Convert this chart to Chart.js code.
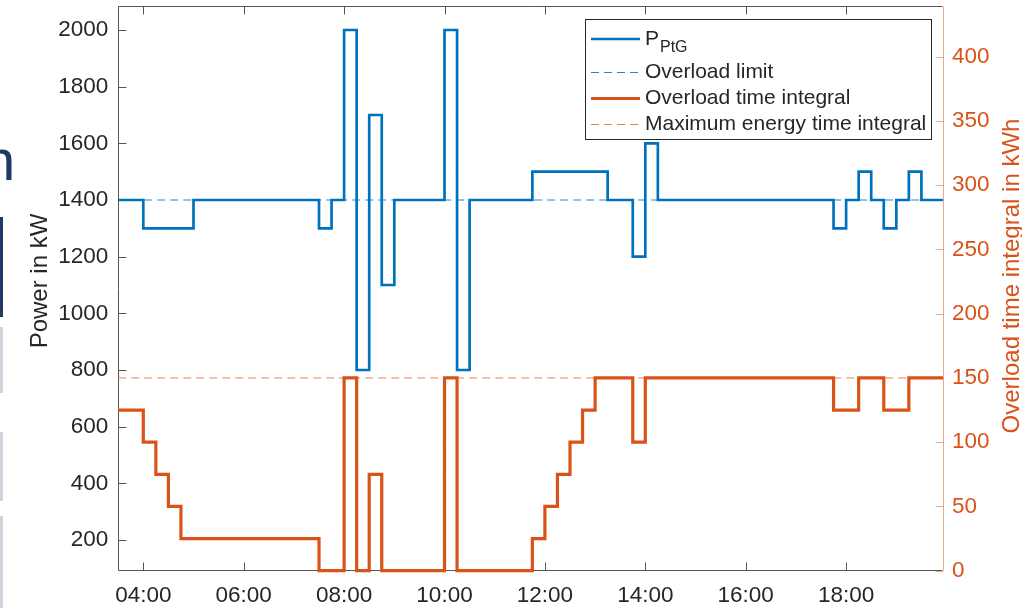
<!DOCTYPE html>
<html>
<head>
<meta charset="utf-8">
<script src="https://cdn.jsdelivr.net/npm/chart.js@4.4.1/dist/chart.umd.min.js"></script>
<style>
  html, body { margin: 0; padding: 0; background: #fff; }
  #wrap { position: relative; width: 1022px; height: 608px; overflow: hidden; }
  #chart { position: absolute; left: 0; top: 0; }
  .slide-n { position: absolute; left: -17px; top: 131px; font: 58px/58px "Liberation Sans", Arial, sans-serif; color: #1f3864; }
  .bar { position: absolute; left: 0; width: 3px; }
</style>
</head>
<body>
<div id="wrap">
  <div class="slide-n">n</div>
  <div class="bar" style="top:217px;height:100px;background:#1f3864"></div>
  <div class="bar" style="top:327px;height:66px;background:#cfd3dc"></div>
  <div class="bar" style="top:432px;height:69px;background:#cfd3dc"></div>
  <div class="bar" style="top:516px;height:92px;background:#cfd3dc"></div>
  <canvas id="chart" width="1022" height="608"></canvas>
</div>
<script>
// --- Data (time in hours of day) ---
const xMin = 3.5;
const xMax = 19.93;
const xTicks = [4, 6, 8, 10, 12, 14, 16, 18];
const leftTicks = [200, 400, 600, 800, 1000, 1200, 1400, 1600, 1800, 2000];
const rightTicks = [0, 50, 100, 150, 200, 250, 300, 350, 400];

// P_PtG in kW, each value holds from its time until the next one
const pTimes = [3.5, 4, 5, 7.5, 7.75, 8, 8.25, 8.5, 8.75, 9, 10, 10.25, 10.5, 11.75, 13.25, 13.75, 14, 14.25, 17.75, 18, 18.25, 18.5, 18.75, 19, 19.25, 19.5, 19.93];
const pValues = [1400, 1300, 1400, 1300, 1400, 2000, 800, 1700, 1100, 1400, 2000, 800, 1400, 1500, 1400, 1200, 1600, 1400, 1300, 1400, 1500, 1400, 1300, 1400, 1500, 1400, 1400];

// Overload time integral in kWh
const eTimes = [3.5, 4, 4.25, 4.5, 4.75, 7.5, 8, 8.25, 8.5, 8.75, 10, 10.25, 11.75, 12, 12.25, 12.5, 12.75, 13, 13.75, 14, 17.75, 18.25, 18.75, 19.25, 19.93];
const eValues = [125, 100, 75, 50, 25, 0, 150, 0, 75, 0, 150, 0, 25, 50, 75, 100, 125, 150, 100, 150, 125, 150, 125, 150, 150];

const overloadLimit = 1400;
const maxEnergy = 150;

// --- Styles ---
const FONT = '"Liberation Sans", Arial, sans-serif';
const TEXT = "#262626";
const BLUE = "#0072BD";
const BLUE_DASH = "#1f86d0";
const ORANGE = "#D95319";
const ORANGE_DASH = "#ee7f52";
const ORANGE_AXIS = "rgba(217, 83, 25, 0.5)";

const toXY = (ts, vs) => ts.map((t, i) => ({ x: t, y: vs[i] }));
const pad2 = (v) => (v < 10 ? "0" : "") + v + ":00";
const noPad = (s) => { s.paddingTop = 0; s.paddingBottom = 0; s.paddingLeft = 0; s.paddingRight = 0; };

// axis box and inward ticks under the data, titles and legend on top (MATLAB look)
const framePlugin = {
  id: "frame",
  beforeDatasetsDraw(chart) {
    const { ctx, chartArea: ca, scales } = chart;
    const L = Math.round(ca.left) + 0.5;
    const R = Math.round(ca.right) - 0.5;
    const T = Math.round(ca.top) + 0.5;
    const B = Math.round(ca.bottom) - 0.5;
    const tl = 8;
    ctx.save();
    ctx.lineWidth = 1;
    ctx.strokeStyle = "#555";
    ctx.beginPath();
    ctx.moveTo(R, T); ctx.lineTo(L, T); ctx.lineTo(L, B); ctx.lineTo(R, B);
    xTicks.forEach((v) => {
      const px = Math.round(scales.x.getPixelForValue(v)) + 0.5;
      ctx.moveTo(px, B); ctx.lineTo(px, B - tl);
      ctx.moveTo(px, T); ctx.lineTo(px, T + tl);
    });
    leftTicks.forEach((v) => {
      const py = Math.round(scales.yL.getPixelForValue(v)) + 0.5;
      ctx.moveTo(L, py); ctx.lineTo(L + tl, py);
    });
    ctx.stroke();

    ctx.strokeStyle = ORANGE_AXIS;
    ctx.beginPath();
    ctx.moveTo(R + 1, T); ctx.lineTo(R + 1, B);
    rightTicks.forEach((v) => {
      const py = Math.round(scales.yR.getPixelForValue(v)) + 0.5;
      ctx.moveTo(R + 1, py); ctx.lineTo(R + 1 - tl, py);
    });
    ctx.stroke();
    ctx.restore();
  },
  afterDraw(chart) {
    const { ctx } = chart;
    ctx.save();
    // axis titles
    ctx.font = "24px " + FONT;
    ctx.textAlign = "center";
    ctx.textBaseline = "middle";
    ctx.fillStyle = TEXT;
    ctx.save();
    ctx.translate(40, 281);
    ctx.rotate(-Math.PI / 2);
    ctx.fillText("Power in kW", 0, 0);
    ctx.restore();
    ctx.fillStyle = ORANGE;
    ctx.save();
    ctx.translate(1012, 276);
    ctx.rotate(-Math.PI / 2);
    ctx.fillText("Overload time integral in kWh", 0, 0);
    ctx.restore();

    // legend
    const lx = 585.5, ly = 19.5, lw = 346, lh = 120;
    ctx.fillStyle = "#fff";
    ctx.fillRect(lx, ly, lw, lh);
    ctx.lineWidth = 1;
    ctx.strokeStyle = TEXT;
    ctx.strokeRect(lx, ly, lw, lh);
    const rows = [
      { y: 39, color: BLUE, width: 2.7, dash: [], text: "P" },
      { y: 72.5, color: BLUE_DASH, width: 1, dash: [8, 5], text: "Overload limit" },
      { y: 98.5, color: ORANGE, width: 3.2, dash: [], text: "Overload time integral" },
      { y: 124.5, color: ORANGE_DASH, width: 1, dash: [8, 5], text: "Maximum energy time integral" },
    ];
    ctx.textAlign = "left";
    rows.forEach((r) => {
      ctx.strokeStyle = r.color;
      ctx.lineWidth = r.width;
      ctx.setLineDash(r.dash);
      ctx.beginPath();
      ctx.moveTo(591, r.y); ctx.lineTo(640, r.y);
      ctx.stroke();
      ctx.setLineDash([]);
      ctx.fillStyle = TEXT;
      ctx.font = "21px " + FONT;
      ctx.fillText(r.text, 645, r.y);
    });
    const pw = ctx.measureText("P").width;
    ctx.font = "16px " + FONT;
    ctx.fillText("PtG", 645 + pw + 1, 48);
    ctx.restore();
  },
};

const tickFont = { family: FONT, size: 22.5 };
const hiddenGrid = { display: false, drawTicks: false };

new Chart(document.getElementById("chart").getContext("2d"), {
  type: "line",
  data: {
    datasets: [
      {
        label: "P_PtG",
        data: toXY(pTimes, pValues),
        yAxisID: "yL",
        borderColor: BLUE,
        borderWidth: 2.7,
        stepped: true,
        pointRadius: 0,
        clip: 4,
        order: 3,
      },
      {
        label: "Overload limit",
        data: toXY([xMin, xMax], [overloadLimit, overloadLimit]),
        yAxisID: "yL",
        borderColor: BLUE_DASH,
        borderWidth: 1,
        borderDash: [8, 5],
        pointRadius: 0,
        order: 4,
      },
      {
        label: "Overload time integral",
        data: toXY(eTimes, eValues),
        yAxisID: "yR",
        borderColor: ORANGE,
        borderWidth: 3.2,
        stepped: true,
        pointRadius: 0,
        clip: 4,
        order: 1,
      },
      {
        label: "Maximum energy time integral",
        data: toXY([xMin, xMax], [maxEnergy, maxEnergy]),
        yAxisID: "yR",
        borderColor: ORANGE_DASH,
        borderWidth: 1,
        borderDash: [8, 5],
        pointRadius: 0,
        order: 2,
      },
    ],
  },
  options: {
    responsive: false,
    animation: false,
    events: [],
    layout: { padding: { top: 5.7, left: 0, right: 0, bottom: 0 } },
    plugins: { legend: { display: false }, tooltip: { enabled: false } },
    scales: {
      x: {
        type: "linear",
        position: "bottom",
        min: xMin,
        max: xMax,
        grid: hiddenGrid,
        border: { display: false },
        afterBuildTicks: (s) => { s.ticks = xTicks.map((v) => ({ value: v })); },
        afterFit: (s) => { s.height = 37.3; noPad(s); },
        ticks: { font: tickFont, color: TEXT, padding: 12, maxRotation: 0, autoSkip: false, callback: (v) => pad2(v) },
      },
      yL: {
        type: "linear",
        position: "left",
        min: 91.6,
        max: 2085.8,
        grid: hiddenGrid,
        border: { display: false },
        afterBuildTicks: (s) => { s.ticks = leftTicks.map((v) => ({ value: v })); },
        afterFit: (s) => { s.width = 118.2; noPad(s); },
        ticks: { font: tickFont, color: TEXT, padding: 10, autoSkip: false, callback: (v) => String(v) },
      },
      yR: {
        type: "linear",
        position: "right",
        min: 0,
        max: 439.7,
        grid: hiddenGrid,
        border: { display: false },
        afterBuildTicks: (s) => { s.ticks = rightTicks.map((v) => ({ value: v })); },
        afterFit: (s) => { s.width = 79; noPad(s); },
        ticks: { font: tickFont, color: ORANGE, padding: 9, autoSkip: false, callback: (v) => String(v) },
      },
    },
  },
  plugins: [framePlugin],
});
</script>
</body>
</html>
